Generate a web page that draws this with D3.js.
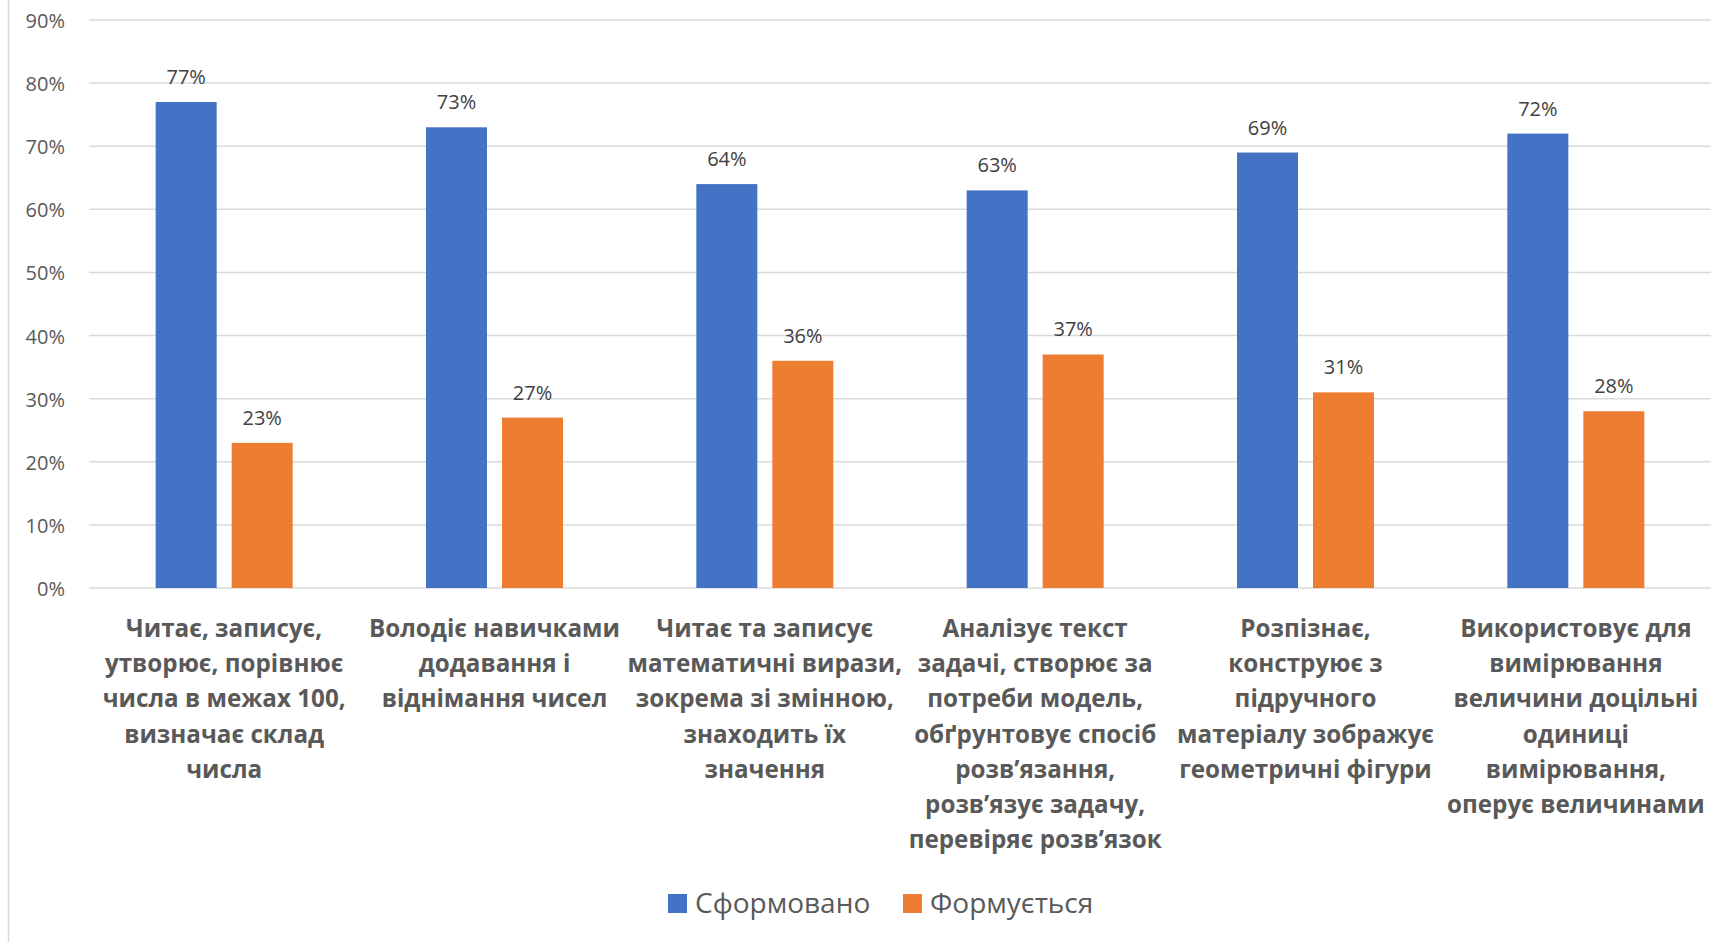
<!DOCTYPE html>
<html>
<head>
<meta charset="utf-8">
<script src="https://cdn.jsdelivr.net/npm/d3@7"></script>
<style>
  html, body { margin: 0; padding: 0; background: #ffffff; }
  svg { display: block; }
</style>
</head>
<body>
<svg id="chart" width="1711" height="942"></svg>
<script>
const categories = [
  ["Читає, записує,", "утворює, порівнює", "числа в межах 100,", "визначає склад", "числа"],
  ["Володіє навичками", "додавання і", "віднімання чисел"],
  ["Читає та записує", "математичні вирази,", "зокрема зі змінною,", "знаходить їх", "значення"],
  ["Аналізує текст", "задачі, створює за", "потреби модель,", "обґрунтовує спосіб", "розв’язання,", "розв’язує задачу,", "перевіряє розв’язок"],
  ["Розпізнає,", "конструює з", "підручного", "матеріалу зображує", "геометричні фігури"],
  ["Використовує для", "вимірювання", "величини доцільні", "одиниці", "вимірювання,", "оперує величинами"]
];
const seriesNames = ["Сформовано", "Формується"];
const formed = [77, 73, 64, 63, 69, 72];
const forming = [23, 27, 36, 37, 31, 28];
const yTicks = [0, 10, 20, 30, 40, 50, 60, 70, 80, 90];
const colors = ["#4472C4", "#ED7D31"];

const svg = d3.select("#chart");
const W = 1711, H = 942;

const x = d3.scaleBand().domain(d3.range(categories.length)).range([89, 1711]).paddingInner(0).paddingOuter(0);
const y = d3.scaleLinear().domain([0, 90]).range([588, 20]);
const barW = 61, gap = 15;

// left border
svg.append("line").attr("x1", 8.5).attr("x2", 8.5).attr("y1", 0).attr("y2", H)
  .attr("stroke", "#d9d9d9").attr("stroke-width", 1.5);

// gridlines
svg.append("g").selectAll("line").data(yTicks).join("line")
  .attr("x1", 89).attr("x2", 1711)
  .attr("y1", d => y(d)).attr("y2", d => y(d))
  .attr("stroke", "#d9d9d9").attr("stroke-width", 1.5);

// y tick labels
svg.append("g").selectAll("text").data(yTicks).join("text")
  .attr("x", 65).attr("y", d => y(d) + 1).attr("dy", "0.35em")
  .attr("text-anchor", "end")
  .attr("font-family", "'Open Sans', sans-serif").attr("font-size", 20)
  .attr("fill", "#595959")
  .text(d => d + "%");

const series = [formed, forming];
series.forEach((vals, si) => {
  const xOff = c => x(c) + x.bandwidth() / 2 + (si === 0 ? -gap / 2 - barW : gap / 2);
  svg.append("g").selectAll("rect").data(vals).join("rect")
    .attr("x", (d, i) => xOff(i))
    .attr("y", d => y(d))
    .attr("width", barW)
    .attr("height", d => y(0) - y(d))
    .attr("fill", colors[si]);
  svg.append("g").selectAll("text").data(vals).join("text")
    .attr("x", (d, i) => xOff(i) + barW / 2)
    .attr("y", d => y(d) - 18)
    .attr("text-anchor", "middle")
    .attr("font-family", "'Open Sans', sans-serif").attr("font-size", 20)
    .attr("fill", "#404040")
    .text(d => d + "%");
});

// category labels
const sx = 0.95;
const catG = svg.append("g");
categories.forEach((lines, i) => {
  const cx = x(i) + x.bandwidth() / 2;
  const t = catG.append("text")
    .attr("transform", `translate(${cx},0) scale(${sx},1)`)
    .attr("text-anchor", "middle")
    .attr("font-family", "'Open Sans', sans-serif").attr("font-weight", 700)
    .attr("font-size", 25.5)
    .attr("fill", "#595959");
  lines.forEach((ln, j) => {
    t.append("tspan").attr("x", 0).attr("y", 637 + j * 35.2).text(ln);
  });
});

// legend
const legend = svg.append("g");
const legendItems = [{name: seriesNames[0], x: 668, color: colors[0]}, {name: seriesNames[1], x: 903, color: colors[1]}];
legendItems.forEach(it => {
  legend.append("rect").attr("x", it.x).attr("y", 894).attr("width", 19).attr("height", 19).attr("fill", it.color);
  legend.append("text").attr("x", it.x + 27).attr("y", 913)
    .attr("font-family", "'Open Sans', sans-serif").attr("font-size", 28)
    .attr("fill", "#595959").text(it.name);
});
</script>
</body>
</html>
